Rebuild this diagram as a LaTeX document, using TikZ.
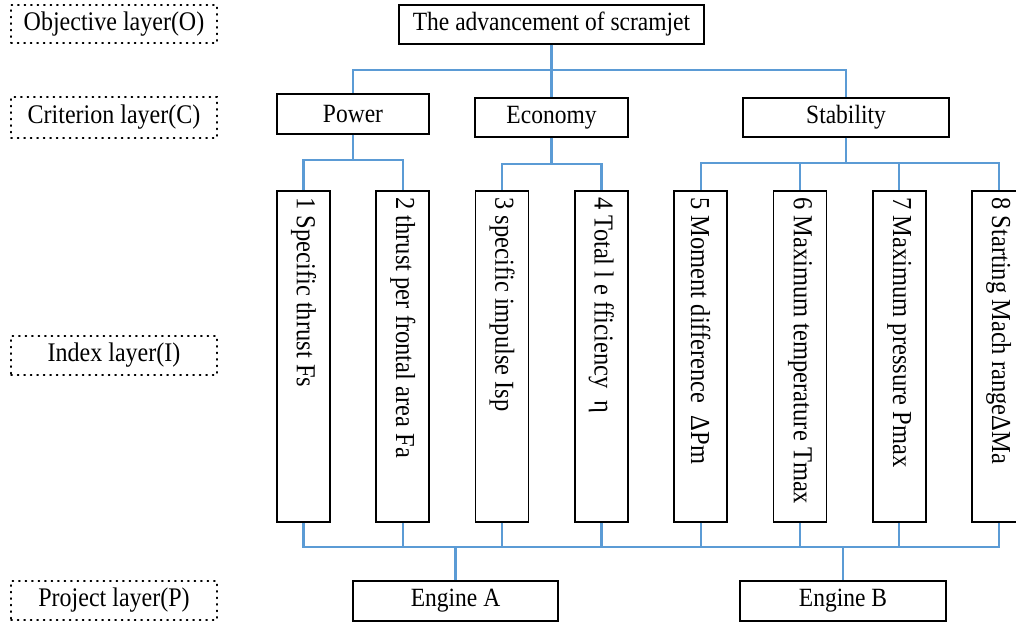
\documentclass[tikz,border=0pt]{standalone}
\usepackage{fontspec}
\usepackage{graphicx}
\setmainfont{Liberation Serif}
\definecolor{linkblue}{RGB}{91,155,213}
\newcommand{\talltxt}[1]{\scalebox{1}[1.12]{#1}}
\tikzset{
  box/.style={draw, line width=1.7pt, inner sep=0pt, font=\fontsize{23.5}{26}\selectfont},
  idxbox/.style={draw, line width=1.7pt, minimum width=53, minimum height=331, inner sep=0pt},
  idxtext/.style={rotate=-90, anchor=west, inner sep=0pt, font=\fontsize{24.5}{26}\selectfont},
  layer/.style={draw, line width=1.4pt, dash pattern=on 1.2pt off 5.3pt, line cap=round,
    minimum width=206, inner sep=0pt, font=\fontsize{24}{26}\selectfont},
  link/.style={draw=linkblue, line width=2.2pt}
}
\begin{document}
\begin{tikzpicture}[x=1pt,y=-1pt]
  \useasboundingbox (0,0) rectangle (1016,623);

  % layer labels
  \node[layer, minimum height=38] (lo) at (114,24) {\talltxt{Objective layer(O)}};
  \node[layer, minimum height=41] (lc) at (114,117.5) {\talltxt{Criterion layer(C)}};
  \node[layer, minimum height=39] (li) at (114,355.5) {\talltxt{Index layer(I)}};
  \node[layer, minimum height=39] (lp) at (114,600.5) {\talltxt{Project layer(P)}};

  % objective and criteria
  \node[box, minimum width=305, minimum height=39] (goal) at (551.5,24.5) {\talltxt{The advancement of scramjet}};
  \node[box, minimum width=152, minimum height=40] (power) at (353,114) {\talltxt{Power}};
  \node[box, minimum width=153, minimum height=39] (econ) at (551.5,117.5) {\talltxt{Economy}};
  \node[box, minimum width=206, minimum height=39] (stab) at (846,117.5) {\talltxt{Stability}};

  % index boxes
  \foreach \k/\txt in {1/1 Specific thrust Fs, 2/2 thrust per frontal area Fa,
      3/3 specific impulse Isp, 4/4 Total l e fficiency\ \ η,
      5/5 Moment difference \ ΔPm, 6/6 Maximum temperature Tmax,
      7/7 Maximum pressure Pmax, 8/8 Starting Mach rangeΔMa}
  {
    \node[idxbox] (i\k) at ({303.5+99.3*(\k-1)},356.5) {};
    \node[idxtext] (t\k) at ([yshift=-7pt]i\k.north) {\talltxt{\txt}};
  }

  % projects
  \node[box, minimum width=205, minimum height=40] (engA) at (455.5,601) {\talltxt{Engine A}};
  \node[box, minimum width=206, minimum height=40] (engB) at (843,601) {\talltxt{Engine B}};

  % connectors
  \draw[link] (goal.south) -- (econ.north);
  \foreach \c in {power,stab}
    \draw[link] (goal.south) -- ++(0,25) -| (\c.north);
  \foreach \k in {1,2}
    \draw[link] (power.south) -- ++(0,25) -| (i\k.north);
  \foreach \k in {3,4}
    \draw[link] (econ.south) -- ++(0,26) -| (i\k.north);
  \foreach \k in {5,...,8}
    \draw[link] (stab.south) -- ++(0,25) -| (i\k.north);
  \foreach \k in {1,...,8}
  {
    \draw[link] (i\k.south) -- ++(0,24) -| (engA.north);
    \draw[link] (i\k.south) -- ++(0,24) -| (engB.north);
  }
\end{tikzpicture}
\end{document}
